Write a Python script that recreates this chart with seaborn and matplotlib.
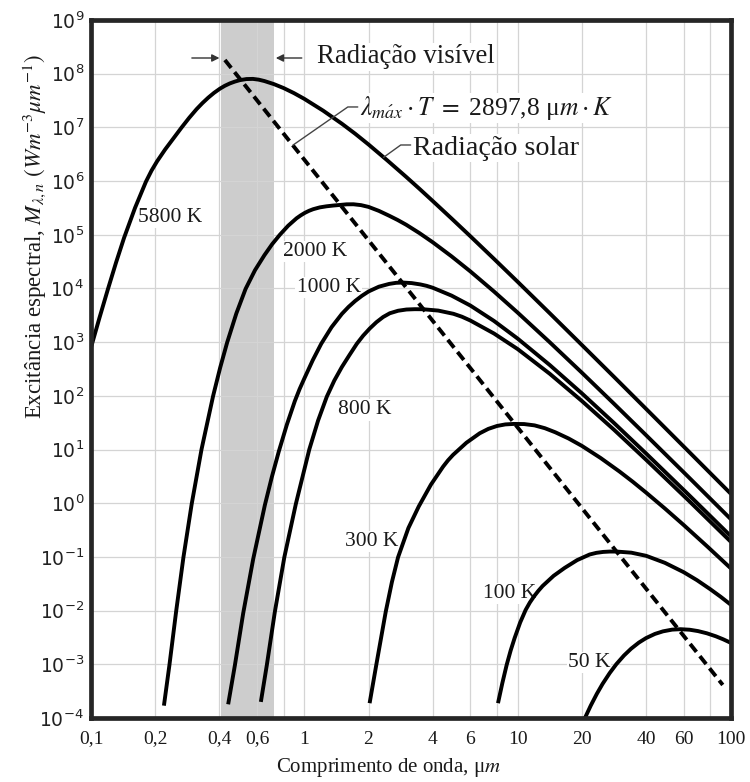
import matplotlib
matplotlib.use("Agg")
import matplotlib.pyplot as plt
import numpy as np
import pandas as pd
import seaborn as sns
from matplotlib.ticker import (FixedLocator, FixedFormatter, LogFormatterSciNotation,
                               NullFormatter, NullLocator)

# ---------------- data ----------------
# wavelength (um) and log10 of spectral exitance (W m^-2 um^-1)
lam_5800 = [0.1, 0.1096, 0.1201, 0.1310, 0.1428, 0.1608, 0.181, 0.1922, 0.2042, 0.2227, 0.2429,
            0.2661, 0.2884, 0.3126, 0.3328, 0.3543, 0.3773, 0.4018, 0.4241, 0.4477, 0.4726, 0.4989,
            0.5353, 0.5741, 0.6109, 0.6501, 0.7211, 0.8, 0.8944, 1.0, 1.2246, 1.5, 1.732, 2.0,
            2.449, 3.0, 3.464, 4.0, 4.899, 6.0, 7.746, 10, 14.14, 20, 28.28, 40, 63.24, 100]
logM_5800 = [2.90, 3.455, 3.99, 4.481, 4.94, 5.50, 5.99, 6.195, 6.37, 6.59, 6.79,
             7.00, 7.177, 7.34, 7.452, 7.553, 7.643, 7.72, 7.775, 7.819, 7.853, 7.88,
             7.90, 7.903, 7.889, 7.863, 7.805, 7.732, 7.638, 7.531, 7.312, 7.068, 6.881, 6.681,
             6.385, 6.079, 5.856, 5.628, 5.303, 4.973, 4.551, 4.124, 3.538, 2.947, 2.354, 1.757,
             0.966, 0.173]

lam_2000 = [0.2197, 0.2332, 0.2506, 0.2712, 0.2965, 0.3297, 0.3736, 0.4030, 0.4345, 0.4800,
            0.5303, 0.5871, 0.65, 0.7066, 0.7677, 0.8401, 0.9194, 0.9614, 1.0054, 1.0514, 1.0997,
            1.1814, 1.2695, 1.3643, 1.466, 1.5785, 1.7, 1.8441, 2.0, 2.236, 2.5, 2.7386, 3.0,
            3.4641, 4.0, 4.899, 6.0, 7.746, 10, 14.14, 20, 28.28, 40, 63.24, 100]
logM_2000 = [-3.77, -3.011, -2.018, -1.006, -0.013, 1.004, 1.998, 2.522, 2.991, 3.534,
             3.991, 4.340, 4.62, 4.825, 5.0, 5.169, 5.307, 5.361, 5.408, 5.446, 5.476,
             5.510, 5.530, 5.544, 5.555, 5.567, 5.568, 5.552, 5.519, 5.445, 5.354, 5.275, 5.1875,
             5.031, 4.860, 4.598, 4.318, 3.943, 3.550, 2.998, 2.431, 1.853, 1.267, 0.487, -0.30]

lam_1000 = [0.4395, 0.4726, 0.5168, 0.5757, 0.653, 0.7043, 0.7596, 0.8280, 0.9027, 0.95, 1.0,
            1.0954, 1.2, 1.3416, 1.5, 1.612, 1.7321, 1.8612, 2.0, 2.2361, 2.5, 2.6926, 2.9,
            3.1859, 3.5, 3.7417, 4.0, 4.899, 6.0, 7.746, 10, 14.14, 20, 28.28, 40, 63.24, 100]
logM_1000 = [-3.745, -3.018, -2.051, -1.041, -0.036, 0.490, 0.968, 1.463, 1.903, 2.126, 2.324,
             2.665, 2.970, 3.279, 3.527, 3.657, 3.768, 3.863, 3.944, 4.033, 4.085, 4.105, 4.110,
             4.100, 4.075, 4.049, 4.013, 3.867, 3.682, 3.395, 3.066, 2.574, 2.046, 1.495, 0.926,
             0.160, -0.617]

lam_800 = [0.6255, 0.6673, 0.7277, 0.8058, 0.9125, 1.0554, 1.160, 1.2745, 1.3823, 1.4988, 1.6251,
           1.762, 1.886, 2.0268, 2.1777, 2.3403, 2.515, 2.7511, 3.0102, 3.2922, 3.601, 4.2437, 5.0,
           5.4774, 6.0, 7.746, 10, 14.14, 20, 28.28, 40, 63.24, 100]
logM_800 = [-3.700, -3.011, -2.019, -1.006, -0.013, 1.004, 1.540, 1.985, 2.286, 2.536, 2.756,
            2.970, 3.120, 3.255, 3.372, 3.468, 3.538, 3.585, 3.608, 3.614, 3.613, 3.588, 3.528,
            3.474, 3.403, 3.161, 2.871, 2.411, 1.904, 1.369, 0.809, 0.052, -0.721]

lam_300 = [2.023, 2.174, 2.408, 2.573, 2.750, 3.075, 3.438, 3.920, 4.468, 4.716, 4.977, 5.748,
           6.639, 7.288, 8.0, 8.753, 9.577, 10.72, 12, 13.42, 15, 17.32, 20, 24.49, 30, 34.64,
           40, 48.99, 60, 77.46, 100]
logM_300 = [-3.724, -3.011, -2.019, -1.469, -1.006, -0.4615, -0.06, 0.346, 0.68, 0.799, 0.90,
            1.126, 1.303, 1.385, 1.439, 1.468, 1.477, 1.4745, 1.450, 1.397, 1.322, 1.206, 1.068,
            0.842, 0.591, 0.400, 0.198, -0.098, -0.4055, -0.806, -1.216]

lam_100 = [8.087, 8.475, 8.881, 9.273, 9.68, 10.272, 10.90, 11.41, 11.95, 12.51, 13.09, 14.74,
           16.60, 19.00, 21.74, 23.39, 25.15, 27.05, 29.1, 34.12, 40, 48.99, 60, 69.28, 80, 89.44, 100]
logM_100 = [-3.724, -3.350, -3.011, -2.742, -2.509, -2.222, -1.987, -1.848, -1.731, -1.630, -1.541,
            -1.352, -1.205, -1.0595, -0.955, -0.924, -0.907, -0.900, -0.900, -0.921, -0.979, -1.110,
            -1.284, -1.433, -1.602, -1.742, -1.893]

lam_50 = [20.5, 22, 23.5, 25, 27, 29, 31.5, 34, 37, 40, 44, 48, 53, 58, 64, 70, 77, 85, 92, 100]
logM_50 = [-4.03, -3.77, -3.55, -3.365, -3.163, -2.998, -2.836, -2.71, -2.595, -2.511, -2.434,
           -2.386, -2.354, -2.346, -2.356, -2.381, -2.422, -2.479, -2.535, -2.602]

curve_names = ["5800 K", "2000 K", "1000 K", "800 K", "300 K", "100 K", "50 K"]
curve_lams = [lam_5800, lam_2000, lam_1000, lam_800, lam_300, lam_100, lam_50]
curve_logMs = [logM_5800, logM_2000, logM_1000, logM_800, logM_300, logM_100, logM_50]

# Wien displacement line (lambda_max * T = 2897.8 um K)
wien_lam = [0.4242, 91.5]
wien_M = [1.8e8, 4.13e-4]

visible_band = [0.405, 0.72]

xtick_vals = [0.1, 0.2, 0.4, 0.6, 1, 2, 4, 6, 10, 20, 40, 60, 100]
xtick_labels = ["0,1", "0,2", "0,4", "0,6", "1", "2", "4", "6", "10", "20", "40", "60", "100"]
xgrid_extra = [0.8, 8, 80]
ytick_vals = [1e-4, 1e-3, 1e-2, 1e-1, 1e0, 1e1, 1e2, 1e3, 1e4, 1e5, 1e6, 1e7, 1e8, 1e9]

label_pos = {
    "5800 K": (0.166, 2.06e5),
    "2000 K": (0.7958, 4.84e4),
    "1000 K": (0.919, 1.05e4),
    "800 K": (1.44, 54.6),
    "300 K": (1.548, 0.193),
    "100 K": (6.88, 0.0205),
    "50 K": (17.2, 1.08e-3),
}

# ---------------- style ----------------
sns.set_style("white")
plt.rcParams['font.family'] = ['Liberation Serif', 'DejaVu Serif']
plt.rcParams['mathtext.fontset'] = 'stix'

fig = plt.figure(figsize=(7.5, 7.82), dpi=100)
ax = fig.add_axes([91 / 750, 1 - 718 / 782, (731 - 91) / 750, (718 - 20) / 782])
ax.set_xscale('log')
ax.set_yscale('log')

ax.axvspan(visible_band[0], visible_band[1], color='#cdcdcd', lw=0, zorder=0.2)

for name, lam, logM in zip(curve_names, curve_lams, curve_logMs):
    df = pd.DataFrame({'lam': lam, 'M': np.power(10.0, logM)})
    sns.lineplot(data=df, x='lam', y='M', ax=ax, color='black', lw=2.8,
                 estimator=None, sort=False, zorder=3, solid_capstyle='butt',
                 solid_joinstyle='round')

dfw = pd.DataFrame({'lam': wien_lam, 'M': wien_M})
sns.lineplot(data=dfw, x='lam', y='M', ax=ax, color='black', lw=2.8,
             estimator=None, sort=False, zorder=4, linestyle=(0, (2.6, 1.4)), dash_capstyle='butt')

ax.set_xlim(0.1, 100)
ax.set_ylim(1e-4, 1e9)

ax.xaxis.set_major_locator(FixedLocator(xtick_vals))
ax.xaxis.set_major_formatter(FixedFormatter(xtick_labels))
ax.xaxis.set_minor_locator(FixedLocator(xgrid_extra))
ax.xaxis.set_minor_formatter(NullFormatter())
ax.yaxis.set_major_locator(FixedLocator(ytick_vals))
ax.yaxis.set_major_formatter(LogFormatterSciNotation())
ax.yaxis.set_minor_locator(NullLocator())
ax.tick_params(which='both', length=0)
ax.tick_params(axis='x', labelsize=14, pad=9, labelcolor='#1a1a1a')
ax.tick_params(axis='y', labelsize=13.5, pad=5, labelcolor='#222222', labelfontfamily='DejaVu Sans')

ax.set_axisbelow(True)
ax.grid(True, which='both', color='#d4d4d4', lw=0.9)
for s in ax.spines.values():
    s.set_linewidth(3.4)
    s.set_color('#262626')
    s.set_zorder(6)

ax.set_xlabel('Comprimento de onda, μ$m$', fontsize=15, math_fontfamily='stix', color='#1a1a1a')
ax.xaxis.set_label_coords(0.465, -0.054)
ax.set_ylabel(r'Excitância espectral, $M_{\lambda,n}$ $(Wm^{-3}\mu m^{-1})$', fontsize=16.5,
              math_fontfamily='stix', color='#1a1a1a')
ax.yaxis.set_label_coords(-0.067, 0.69)

box = dict(facecolor='white', edgecolor='none', pad=0.8)
for name in curve_names:
    x0, y0 = label_pos[name]
    ax.text(x0, y0, name, fontsize=15.5, ha='left', va='center', zorder=2.6, bbox=box, color='#1a1a1a')

# visible radiation annotation
ax.text(1.144, 2.05e8, 'Radiação visível', fontsize=19.3, ha='left', va='center', zorder=5,
        bbox=box, color='#1a1a1a')
arrow = dict(arrowstyle='-|>', color='#333333', lw=1.0, mutation_scale=11, shrinkA=0, shrinkB=0)
ax.annotate('', xy=(0.400, 1.96e8), xytext=(0.297, 1.96e8), arrowprops=arrow, zorder=5)
ax.annotate('', xy=(0.735, 1.96e8), xytext=(0.973, 1.96e8), arrowprops=arrow, zorder=5)

# Wien law label + leader
ax.text(1.82, 2.3e7, r'$\lambda_{m\acute{a}x}\cdot T\ =\ $2897,8 μ$m\cdot K$', fontsize=18.4,
        ha='left', va='center', zorder=5, bbox=box, math_fontfamily='stix', color='#1a1a1a')
ax.plot([1.78, 1.599, 0.883], [2.4e7, 2.4e7, 4.65e6], color='#444444', lw=1.0, zorder=4.5)

# solar radiation label + leader
ax.text(3.22, 4.13e6, 'Radiação solar', fontsize=20.2, ha='left', va='center', zorder=5,
        bbox=box, color='#1a1a1a')
ax.plot([3.15, 2.831, 2.35], [4.7e6, 4.7e6, 2.76e6], color='#444444', lw=1.0, zorder=4.5)

fig.savefig('out.png', dpi=100)
